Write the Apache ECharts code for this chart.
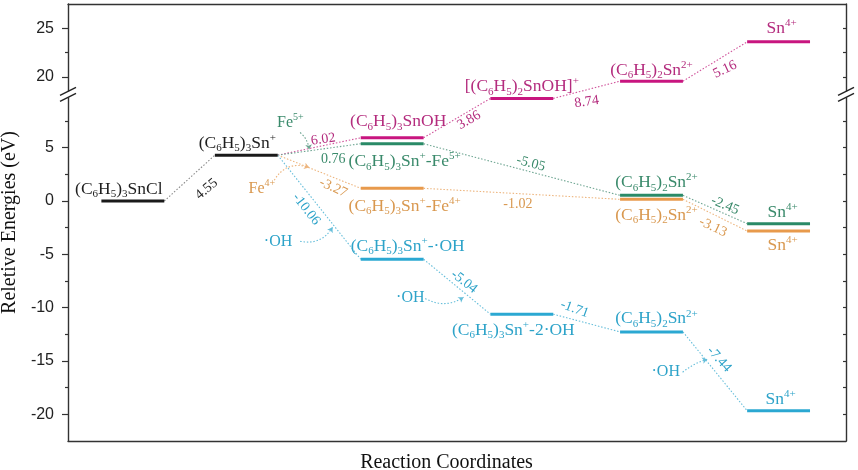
<!DOCTYPE html>
<html><head><meta charset="utf-8">
<script src="https://cdn.jsdelivr.net/npm/echarts@6/dist/echarts.min.js"></script>
<style>html,body{margin:0;padding:0;background:#fff}#c{width:858px;height:470px}</style>
</head><body><div id="c"></div>
<script>
// ---------------- data ----------------
// reaction-coordinate position of each column of levels
const columnX = [1.0, 2.75, 5.0, 7.0, 9.0, 10.96];
const levelHalfWidth = 0.485;

// common start
const startCols = [0, 1];
const startE = [0, 4.30];
const startNames = ['(C_6H_5)_3SnCl', '(C_6H_5)_3Sn^{+}'];
const startStep = '4.55';

// magenta pathway
const magentaCols = [2, 3, 4, 5];
const magentaE = [5.93, 9.62, 19.55, 23.6];
const magentaNames = ['(C_6H_5)_3SnOH', '[(C_6H_5)_2SnOH]^{+}', '(C_6H_5)_2Sn^{2+}', 'Sn^{4+}'];
const magentaSteps = ['6.02', '3.86', '8.74', '5.16'];

// green pathway (Fe5+)
const greenCols = [2, 4, 5];
const greenE = [5.37, 0.53, -2.12];
const greenNames = ['(C_6H_5)_3Sn^{+}-Fe^{5+}', '(C_6H_5)_2Sn^{2+}', 'Sn^{4+}'];
const greenSteps = ['0.76', '-5.05', '-2.45'];

// orange pathway (Fe4+)
const orangeCols = [2, 4, 5];
const orangeE = [1.19, 0.16, -2.81];
const orangeNames = ['(C_6H_5)_3Sn^{+}-Fe^{4+}', '(C_6H_5)_2Sn^{2+}', 'Sn^{4+}'];
const orangeSteps = ['-3.27', '-1.02', '-3.13'];

// cyan pathway (·OH)
const cyanCols = [2, 3, 4, 5];
const cyanE = [-5.46, -10.61, -12.27, -19.66];
const cyanNames = ['(C_6H_5)_3Sn^{+}-·OH', '(C_6H_5)_3Sn^{+}-2·OH', '(C_6H_5)_2Sn^{2+}', 'Sn^{4+}'];
const cyanSteps = ['-10.06', '-5.04', '-1.71', '-7.44'];

// reagent annotations
const reagentText = ['Fe^{5+}', 'Fe^{4+}', '·OH', '·OH', '·OH'];
const reagentPath = [2, 3, 4, 4, 4];
const reagentPos = [[3.43, 7.38], [2.99, 1.19], [3.24, -3.78], [5.28, -9.12], [9.22, -16.05]];
const arrowFrom = [[3.58, 6.42], [3.18, 1.94], [3.58, -3.77], [5.51, -9.13], [9.48, -16.05]];
const arrowTo = [[3.72, 4.83], [3.72, 3.14], [4.08, -2.47], [6.10, -9.03], [9.86, -14.83]];

// y axis ticks (real energies)
const yMajorTicks = [-20, -15, -10, -5, 0, 5, 20, 25];
const yMinorTicks = [-17.5, -12.5, -7.5, -2.5, 2.5, 7.5, 22.5];
const yMin = -22.5, yMax = 27.5;

// ---------------- styles ----------------
const SERIF = '"Liberation Serif","Times New Roman",serif';
const SANS = '"Liberation Sans",Arial,sans-serif';
const pathStyle = [
  {bar: '#1a1a1a', link: '#8a8a8a', text: '#1e1e1e'},
  {bar: '#C8157F', link: '#D0539B', text: '#B42C7E'},
  {bar: '#2A8A67', link: '#6EA592', text: '#3A8A6B'},
  {bar: '#E89A4C', link: '#EDB57E', text: '#D9984F'},
  {bar: '#2BA8D2', link: '#66BEDA', text: '#2DA3C9'}
];
// name label offsets (px) from level centre
const startNameOff = [[-14, -12], [-9, -12]];
const magentaNameOff = [[6, -16], [0, -12], [0, -11], [3, -13]];
const greenNameOff = [[12.5, 18], [5, -13], [4, -11]];
const orangeNameOff = [[12.5, 18], [5, 16], [4, 14]];
const cyanNameOff = [[15.5, -13], [-8.5, 16], [5, -13], [2, -11]];
// step label offsets (px) from link midpoint and rotation (deg)
const startStepOff = [[17, 11, 40]];
const magentaStepOff = [[4, -7, 8], [12, 2, 30], [0, 12, 8], [10, 8, 25]];
const greenStepOff = [[14, 10, 0], [9, -6, -15], [10, -4, -23]];
const orangeStepOff = [[14, 16, -25], [-4, 11, 0], [-2, 12, -25]];
const cyanStepOff = [[-13, 2, -52], [7, -5, -38], [-12, -14, -20], [4, -12, -48]];
const arrowCurve = [0.2, 0.4, -0.35, -0.3, 0.1];

// ---------------- broken axis ----------------
const breakLow = 10, breakHigh = 18.19, upperScale = 0.91;
function toAxis(v) { return v <= breakLow ? v : breakLow + (v - breakHigh) * upperScale; }
function fromAxis(d) { return d <= breakLow + 1e-9 ? d : breakHigh + (d - breakLow) / upperScale; }

function toRich(s) {
  let out = '', buf = '', i = 0;
  const flush = () => { if (buf) { out += '{n|' + buf + '}'; buf = ''; } };
  while (i < s.length) {
    const c = s[i];
    if (c === '_') { flush(); out += '{b|' + s[i + 1] + '}'; i += 2; }
    else if (c === '^') { flush(); const j = s.indexOf('}', i); out += '{p|' + s.slice(i + 2, j) + '}'; i = j + 1; }
    else { buf += c; i++; }
  }
  flush();
  return out;
}
function richStyles(size) {
  const sub = Math.round(size * 0.62);
  return {
    n: {fontSize: size, fontFamily: SERIF, lineHeight: size + 4, verticalAlign: 'middle'},
    b: {fontSize: sub, fontFamily: SERIF, lineHeight: sub, verticalAlign: 'bottom'},
    p: {fontSize: sub, fontFamily: SERIF, lineHeight: sub, verticalAlign: 'top'}
  };
}

// ---------------- build items ----------------
const levelData = [], levelMeta = [];
const linkData = [], linkMeta = [];
const paths = [
  {cols: startCols, E: startE, names: startNames, noff: startNameOff, steps: [startStep], soff: startStepOff, style: 0},
  {cols: magentaCols, E: magentaE, names: magentaNames, noff: magentaNameOff, steps: magentaSteps, soff: magentaStepOff, style: 1},
  {cols: greenCols, E: greenE, names: greenNames, noff: greenNameOff, steps: greenSteps, soff: greenStepOff, style: 2},
  {cols: orangeCols, E: orangeE, names: orangeNames, noff: orangeNameOff, steps: orangeSteps, soff: orangeStepOff, style: 3},
  {cols: cyanCols, E: cyanE, names: cyanNames, noff: cyanNameOff, steps: cyanSteps, soff: cyanStepOff, style: 4}
];
paths.forEach((p, pi) => {
  p.cols.forEach((c, k) => {
    const x = columnX[c];
    levelData.push([x - levelHalfWidth, x + levelHalfWidth, toAxis(p.E[k])]);
    levelMeta.push({name: p.names[k], off: p.noff[k], style: p.style});
  });
  const chainCols = pi === 0 ? p.cols : [startCols[1]].concat(p.cols);
  const chainE = pi === 0 ? p.E : [startE[1]].concat(p.E);
  for (let k = 0; k < chainCols.length - 1; k++) {
    linkData.push([columnX[chainCols[k]] + levelHalfWidth, toAxis(chainE[k]),
                   columnX[chainCols[k + 1]] - levelHalfWidth, toAxis(chainE[k + 1])]);
    linkMeta.push({label: p.steps[k], off: p.soff[k], style: p.style});
  }
});

const reagentData = reagentPos.map(p => [p[0], toAxis(p[1])]);
const arrowData = arrowFrom.map((f, i) => ({
  coords: [[f[0], toAxis(f[1])], [arrowTo[i][0], toAxis(arrowTo[i][1])]],
  lineStyle: {color: pathStyle[reagentPath[i]].link, curveness: arrowCurve[i]}
}));

// ---------------- chart ----------------
const chart = echarts.init(document.getElementById('c'), null, {renderer: 'canvas'});
const axisColor = '#333';
const option = {
  animation: false,
  backgroundColor: '#fff',
  grid: {left: 68, right: 12, top: 4, bottom: 29, containLabel: false, outerBoundsMode: 'none'},
  xAxis: [
    {type: 'value', min: 0, max: 12, position: 'bottom',
     axisLine: {show: true, onZero: false, lineStyle: {color: axisColor, width: 1.4}},
     axisTick: {show: false}, axisLabel: {show: false}, splitLine: {show: false},
     name: 'Reaction Coordinates', nameLocation: 'middle', nameGap: 12,
     nameTextStyle: {fontFamily: SERIF, fontSize: 20, color: '#111', padding: [0, 21, 0, 0], verticalAlign: 'top'}},
    {type: 'value', min: 0, max: 12, position: 'top',
     axisLine: {show: true, onZero: false, lineStyle: {color: axisColor, width: 1.4}},
     axisTick: {show: false}, axisLabel: {show: false}, splitLine: {show: false}}
  ],
  yAxis: [
    {type: 'value', min: toAxis(yMin), max: toAxis(yMax), position: 'left',
     axisLine: {show: true, onZero: false, lineStyle: {color: axisColor, width: 1.4}},
     axisTick: {show: true, length: 6, lineStyle: {color: axisColor, width: 1.2}, customValues: yMajorTicks.map(toAxis)},
     axisLabel: {show: true, customValues: yMajorTicks.map(toAxis), margin: 14,
       fontFamily: SANS, fontSize: 16, color: '#222',
       formatter: v => String(Math.round(fromAxis(v)))},
     splitLine: {show: false},
     name: 'Reletive Energies (eV)', nameLocation: 'middle', nameGap: 42,
     nameTextStyle: {fontFamily: SERIF, fontSize: 20, color: '#111'}},
    {type: 'value', min: toAxis(yMin), max: toAxis(yMax), position: 'left',
     axisLine: {show: false, onZero: false},
     axisTick: {show: true, length: 3, lineStyle: {color: axisColor, width: 1.2}, customValues: yMinorTicks.map(toAxis)},
     axisLabel: {show: false}, splitLine: {show: false}},
    {type: 'value', min: toAxis(yMin), max: toAxis(yMax), position: 'right',
     axisLine: {show: true, onZero: false, lineStyle: {color: axisColor, width: 1.4}},
     axisTick: {show: true, inside: true, length: 3, lineStyle: {color: axisColor, width: 1.2},
       customValues: yMajorTicks.concat(yMinorTicks).map(toAxis)},
     axisLabel: {show: false}, splitLine: {show: false}}
  ],
  series: [
    { // connecting dotted lines + step labels
      type: 'custom', xAxisIndex: 0, yAxisIndex: 0, z: 2,
      encode: {x: [0, 2], y: [1, 3]},
      data: linkData,
      renderItem: (params, api) => {
        const m = linkMeta[params.dataIndex];
        const st = pathStyle[m.style];
        const a = api.coord([api.value(0), api.value(1)]);
        const b = api.coord([api.value(2), api.value(3)]);
        const mx = (a[0] + b[0]) / 2 + m.off[0], my = (a[1] + b[1]) / 2 + m.off[1];
        return {type: 'group', children: [
          {type: 'line', shape: {x1: a[0], y1: a[1], x2: b[0], y2: b[1]},
           style: {stroke: st.link, lineWidth: 1.1, lineDash: [1.5, 1.8]}},
          {type: 'text', x: mx, y: my, rotation: m.off[2] * Math.PI / 180,
           style: {text: m.label, fill: st.text, fontFamily: SERIF, fontSize: 14, align: 'center', verticalAlign: 'middle'}}
        ]};
      }
    },
    { // energy levels + names
      type: 'custom', xAxisIndex: 0, yAxisIndex: 0, z: 3,
      encode: {x: [0, 1], y: 2},
      data: levelData,
      renderItem: (params, api) => {
        const m = levelMeta[params.dataIndex];
        const st = pathStyle[m.style];
        const a = api.coord([api.value(0), api.value(2)]);
        const b = api.coord([api.value(1), api.value(2)]);
        return {type: 'group', children: [
          {type: 'line', shape: {x1: a[0], y1: a[1], x2: b[0], y2: b[1]},
           style: {stroke: st.bar, lineWidth: 3}},
          {type: 'text', x: (a[0] + b[0]) / 2 + m.off[0], y: a[1] + m.off[1],
           style: {text: toRich(m.name), rich: richStyles(17.5), fill: st.text,
                   fontFamily: SERIF, fontSize: 17.5, align: 'center', verticalAlign: 'middle'}}
        ]};
      }
    },
    { // reagent annotations
      type: 'custom', xAxisIndex: 0, yAxisIndex: 0, z: 3,
      encode: {x: 0, y: 1},
      data: reagentData,
      renderItem: (params, api) => {
        const p = api.coord([api.value(0), api.value(1)]);
        const st = pathStyle[reagentPath[params.dataIndex]];
        return {type: 'text', x: p[0], y: p[1],
          style: {text: toRich(reagentText[params.dataIndex]), rich: richStyles(16), fill: st.text,
                  fontFamily: SERIF, fontSize: 16, align: 'center', verticalAlign: 'middle'}};
      }
    },
    { // curved reagent arrows
      type: 'lines', coordinateSystem: 'cartesian2d', xAxisIndex: 0, yAxisIndex: 0, z: 3,
      symbol: ['none', 'arrow'], symbolSize: 5,
      lineStyle: {type: [1.5, 1.8], width: 1.1, opacity: 1},
      data: arrowData
    }
  ]
};
chart.setOption(option);

// axis-break marks on left and right axes
const yb = chart.convertToPixel({yAxisIndex: 0}, breakLow);
const xl = chart.convertToPixel({xAxisIndex: 0}, 0);
const xr = chart.convertToPixel({xAxisIndex: 0}, 12);
function breakMark(x) {
  return [
    {type: 'rect', shape: {x: x - 3, y: yb - 3, width: 6, height: 6}, style: {fill: '#fff'}, z: 100},
    {type: 'line', shape: {x1: x - 8, y1: yb + 1, x2: x + 8, y2: yb - 7}, style: {stroke: '#222', lineWidth: 1.3}, z: 101},
    {type: 'line', shape: {x1: x - 8, y1: yb + 7, x2: x + 8, y2: yb - 1}, style: {stroke: '#222', lineWidth: 1.3}, z: 101}
  ];
}
chart.setOption({graphic: breakMark(xl).concat(breakMark(xr))});
</script></body></html>
